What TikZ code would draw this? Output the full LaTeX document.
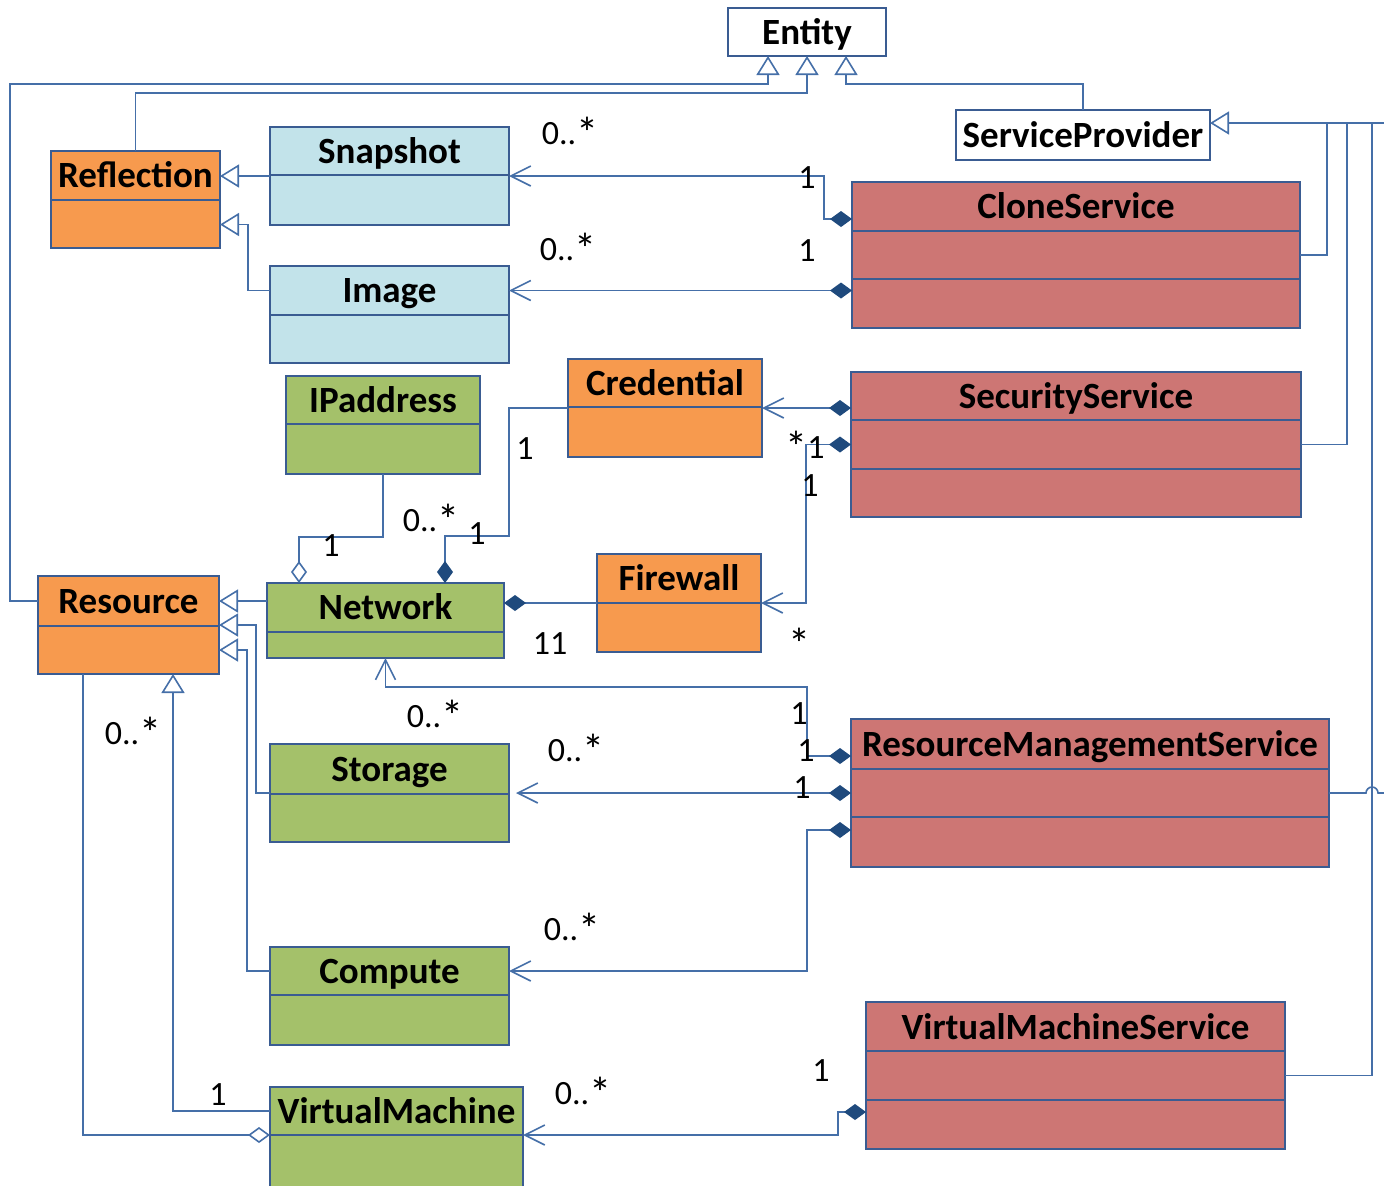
\documentclass[tikz,border=0pt]{standalone}
\usepackage{fontspec}
\setmainfont{Carlito}
\usetikzlibrary{arrows.meta,calc}
\definecolor{lnc}{HTML}{456FA8}
\definecolor{bdc}{HTML}{3A5C92}
\definecolor{dmc}{HTML}{1F4A7D}
\definecolor{orf}{HTML}{F79A4E}
\definecolor{blf}{HTML}{C2E3EA}
\definecolor{grf}{HTML}{A4C16A}
\definecolor{rdf}{HTML}{CD7674}
\newcommand\mstar{\raisebox{-0.12em}{\scalebox{1.3}{*}}}
\tikzset{
  x=0.5pt, y=-0.5pt,
  clsbox/.style={draw=bdc, line width=1pt, inner sep=0pt, outer sep=0pt, rectangle},
  bdline/.style={draw=bdc, line width=1pt},
  clstitle/.style={font=\bfseries\fontsize{18.5}{20}\selectfont, inner sep=0pt, text height=12pt, text depth=0pt},
  mult/.style={font=\fontsize{17}{18}\selectfont, inner sep=0pt, text height=11pt, text depth=0pt},
  ln/.style={draw=lnc, line width=0.8pt},
  gen/.style={ln, -{Triangle[length=9.5pt, width=11.5pt, fill=white]}},
  nav/.style={ln, -{Straight Barb[length=10pt, width=10pt]}},
  comp/.style={ln, {Diamond[length=11pt, width=8pt, color=dmc, fill=dmc]}-},
  compnav/.style={ln, {Diamond[length=11pt, width=8pt, color=dmc, fill=dmc]}-{Straight Barb[length=10pt, width=10pt]}},
  agg/.style={ln, {Diamond[length=11pt, width=8pt, fill=white]}-},
}
\newcommand\umlcls[9]{% name fill l t r b dividers titley title
  \node[clsbox, fill=#2, minimum width={(#5-#3)*0.5pt}, minimum height={(#6-#4)*0.5pt}] (#1) at ({(#3+#5)/2},{(#4+#6)/2}) {};
  \foreach \dv in {#7} {\draw[bdline] (#3,\dv) -- (#5,\dv);}
  \node[clstitle] (#1-t) at ({(#3+#5)/2},#8) {#9};
}
\begin{document}
\begin{tikzpicture}
\useasboundingbox (0,0) rectangle (1384,1185);

% plain boxes
\node[clsbox, fill=white, minimum width={(886-728)*0.5pt}, minimum height={(56-8)*0.5pt}] (ent) at (807,32) {};
\node[clstitle] (ent-t) at (807,32) {Entity};
\node[clsbox, fill=white, minimum width={(1210-956)*0.5pt}, minimum height={(160-110)*0.5pt}] (sp) at (1083,135) {};
\node[clstitle] (sp-t) at (1083,135) {ServiceProvider};

\umlcls{refl}{orf}{51}{151}{220}{248}{200}{175}{Reflection}
\umlcls{snap}{blf}{270}{127}{509}{225}{175}{151}{Snapshot}
\umlcls{img}{blf}{270}{266}{509}{363}{315}{290.5}{Image}
\umlcls{ip}{grf}{286}{376}{480}{474}{424}{400}{IPaddress}
\umlcls{cred}{orf}{568}{359}{762}{457}{407}{383}{Credential}
\umlcls{net}{grf}{267}{583}{504}{658}{632}{607}{Network}
\umlcls{fw}{orf}{597}{554}{761}{652}{603}{578}{Firewall}
\umlcls{res}{orf}{38}{576}{219}{674}{626}{601}{Resource}
\umlcls{stor}{grf}{270}{744}{509}{842}{794}{769}{Storage}
\umlcls{comp}{grf}{270}{947}{509}{1045}{995}{971}{Compute}
\umlcls{vm}{grf}{270}{1087}{523}{1192}{1135}{1111}{VirtualMachine}
\umlcls{clone}{rdf}{852}{182}{1300}{328}{231,279}{206}{CloneService}
\umlcls{sec}{rdf}{851}{372}{1301}{517}{420,469}{396}{SecurityService}
\umlcls{rms}{rdf}{851}{719}{1329}{867}{769,817}{744}{ResourceManagementService}
\umlcls{vms}{rdf}{866}{1002}{1285}{1149}{1051,1100}{1027}{VirtualMachineService}

% generalizations to Entity
\draw[gen] (res-t -| res.west) -- ++(-28,0) |- ($(ent.south)+(-39,28)$) -- ($(ent.south)+(-39,0)$);
\draw[gen] (refl.north) |- ($(ent.south)+(0,37)$) -- (ent.south);
\draw[gen] (sp.north) |- ($(ent.south)+(39,28)$) -- ($(ent.south)+(39,0)$);

% generalizations to Reflection
\draw[gen] (snap.west) -- (snap.west -| refl.east);
\draw[gen] (img-t -| img.west) -- ++(-22,0) |- ($(refl.east)+(0,25)$);

% CloneService associations
\draw[compnav] ($(clone.north west)+(0,37)$) -- ++(-28,0) |- (snap.east);
\draw[compnav] (img-t -| clone.west) -- (img-t -| img.east);

% generalizations to ServiceProvider
\coordinate (spj) at ($(sp.east)+(174,-12)$);
\draw[ln] (clone.east) -| ($(sp.east)+(117,-12)$);
\draw[ln] (sec.east) -| ($(sp.east)+(137,-12)$);
\draw[ln] (vms.east) -| ($(sp.east)+(162,-12)$);
\draw[gen] (spj) -- ($(sp.east)+(0,-12)$);
\draw[ln] (rms.east) -- ++(37,0) arc[start angle=180, end angle=360, radius=6] -- ++(6,0);

% Credential
\draw[compnav] (cred.east -| sec.west) -- (cred.east);
\draw[comp] ($(net.north)+(59.5,0)$) -- ++(0,-47) -| ($(cred.west)+(-59,0)$) -- (cred.west);

% IPaddress aggregation
\draw[agg] ($(net.north)+(-86.5,0)$) -- ++(0,-46) -| (ip.south);

% Firewall
\draw[comp] (fw.west -| net.east) -- (fw.west);
\draw[compnav] (sec.west) -- ++(-45,0) |- (fw.east);

% ResourceManagementService
\draw[compnav] ($(rms.north west)+(0,37)$) -- ++(-44,0) |- ($(net.south)+(0,29)$) -- (net.south);
\draw[compnav] (rms.west) -- ($(stor.east)+(7,0)$);
\draw[compnav] ($(rms.west)+(0,37)$) -- ++(-44,0) |- (comp-t -| comp.east);

% generalizations to Resource
\draw[gen] (res-t -| net.west) -- (res-t -| res.east);
\draw[gen] (stor.west) -- ++(-14,0) |- (res.east);
\draw[gen] (comp-t -| comp.west) -- ++(-23,0) |- ($(res.east)+(0,25)$);
\draw[gen] (vm-t -| vm.west) -| ($(res.south)+(44.5,0)$);
\draw[agg] ($(vm.north west)+(0,48)$) -| ($(res.south)+(-45.5,0)$);

% VirtualMachineService
\draw[compnav] ($(vms.south west)+(0,-37)$) -- ++(-28,0) |- ($(vm.north east)+(0,48)$);

% multiplicities
\node[mult] (m1) at (570,133) {0..\mstar};
\node[mult] (m2) at (807,177) {1};
\node[mult] (m3) at (568,249) {0..\mstar};
\node[mult] (m4) at (807,250) {1};
\node[mult] (m5) at (525,448) {1};
\node[mult] (m6) at (805,447) {\mstar1};
\node[mult] (m8) at (810,485) {1};
\node[mult] (m9) at (431,520) {0..\mstar};
\node[mult] (m10) at (477,533) {1};
\node[mult] (m11) at (331,545) {1};
\node[mult] (m12) at (550,643) {11};
\node[mult] (m13) at (799,644) {\mstar};
\node[mult] (m14) at (799,713) {1};
\node[mult] (m15) at (435,716) {0..\mstar};
\node[mult] (m16) at (806,750) {1};
\node[mult] (m17) at (576,750) {0..\mstar};
\node[mult] (m18) at (802,787) {1};
\node[mult] (m19) at (133,733) {0..\mstar};
\node[mult] (m20) at (572,929) {0..\mstar};
\node[mult] (m21) at (821,1070) {1};
\node[mult] (m22) at (218,1094) {1};
\node[mult] (m23) at (583,1093) {0..\mstar};
\end{tikzpicture}
\end{document}
